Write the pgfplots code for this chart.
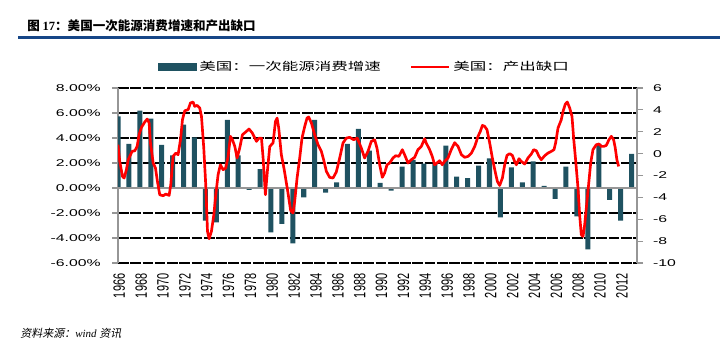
\documentclass[border=0pt]{standalone}
\usepackage{fontspec}
\setmainfont{Liberation Sans}
\newfontfamily\cjk{Noto Sans CJK SC}
\newfontfamily\cjkit[FakeSlant=0.2]{Noto Sans CJK SC}
\newfontfamily\tnr{Liberation Serif}
\usepackage{graphicx}
\usepackage{pgfplots}
\pgfplotsset{compat=1.18}
\definecolor{barcol}{RGB}{31,82,97}
\definecolor{rulecol}{RGB}{22,70,135}
\definecolor{axgray}{RGB}{150,150,150}
\pgfplotsset{
  common/.style={
    at={(88.5pt,67.5pt)}, anchor=south west, scale only axis,
    width=389.25pt, height=131.25pt,
    xmin=1966, xmax=2013.5,
    tick align=outside, major tick length=4.5pt,
    y axis line style={axgray, line width=1.1pt},
    ytick style={axgray, line width=0.9pt},
  }
}
\begin{document}
\begin{tikzpicture}
\path[use as bounding box] (0,0) rectangle (540pt,264.75pt);
\node[anchor=base west, inner sep=0pt, font=\fontsize{9.4pt}{11pt}\selectfont] at (20.25pt,241.5pt)
  {\cjk\bfseries 图 {\tnr\bfseries 17}：美国一次能源消费增速和产出缺口};
\draw[rulecol, line width=1.7pt] (13.5pt,236.6pt) -- (540pt,236.6pt);
\node[anchor=base west, inner sep=0pt, font=\fontsize{8.25pt}{10pt}\selectfont] at (15pt,12pt)
  {\cjkit 资料来源：{\tnr\itshape wind }资讯};

\begin{axis}[common,
  ymin=-6, ymax=8,
  axis y line*=left, axis x line*=bottom,
  x axis line style={draw=none},
  xtick style={draw=none},
  ytick={-6,-4,...,8},
  yticklabel={\scalebox{1.6}[1]{\pgfmathprintnumber[fixed,fixed zerofill,precision=2,assume math mode=true]{\tick}\%}},
  yticklabel style={font=\fontsize{7.4pt}{9pt}\selectfont, xshift=-5pt},
  xtick={1966,1968,...,2012},
  xticklabel={\scalebox{1}[1.5]{\pgfmathprintnumber[int detect,1000 sep={},assume math mode=true]{\tick}}},
  xticklabel style={rotate=90, anchor=east, font=\fontsize{8.2pt}{9pt}\selectfont, yshift=-1pt},
  ymajorgrids,
  grid style={black, line width=1.4pt, dash pattern=on 8pt off 1.2pt},
]
\addplot[ybar, bar width=0.46, fill=barcol, draw=none] coordinates {
(1966,5.73) (1967,3.52) (1968,6.19) (1969,5.55) (1970,3.44) (1971,2.6)
(1972,5.07) (1973,4.05) (1974,-2.61) (1975,-2.75) (1976,5.44) (1977,2.6)
(1978,-0.15) (1979,1.5) (1980,-3.55) (1981,-2.88) (1982,-4.43) (1983,-0.75)
(1984,5.44) (1985,-0.37) (1986,0.45) (1987,3.52) (1988,4.72) (1989,2.99)
(1990,0.4) (1991,-0.21) (1992,1.71) (1993,2.24) (1994,1.95) (1995,1.95)
(1996,3.39) (1997,0.9) (1998,0.78) (1999,1.79) (2000,2.37) (2001,-2.35)
(2002,1.65) (2003,0.45) (2004,2.13) (2005,0.16) (2006,-0.88) (2007,1.71)
(2008,-2.27) (2009,-4.91) (2010,3.52) (2011,-0.96) (2012,-2.61) (2013,2.72)
};
\draw[axgray, line width=1.4pt] (1966,0) -- (2013.5,0);
\end{axis}

\begin{axis}[common,
  ymin=-10, ymax=6,
  axis y line*=right, axis x line=none,
  ytick={-10,-8,...,6},
  yticklabel={\scalebox{1.6}[1]{\pgfmathprintnumber[int detect,assume math mode=true]{\tick}}},
  yticklabel style={font=\fontsize{7.4pt}{9pt}\selectfont, xshift=4pt},
  legend style={at={(0.077,1.12)}, anchor=west, draw=none, fill=none, inner sep=0pt,
    legend columns=2, font=\fontsize{8.25pt}{10pt}\selectfont,
    /tikz/every even column/.append style={column sep=20pt}},
  legend cell align=left,
]
\addlegendimage{legend image code/.code={\fill[barcol] (0pt,-2.6pt) rectangle (28.5pt,2.6pt);}}
\addlegendentry{\scalebox{1.5}[1]{\cjk 美国：一次能源消费增速}}
\addplot[red, line width=2pt, line join=round,
  legend image code/.code={\draw[red, line width=1.8pt] (0pt,0pt) -- (28.5pt,0pt);}] coordinates {
(1966.00,0.81) (1966.16,-0.71) (1966.41,-2.08) (1966.56,-2.23) (1966.77,-1.47) (1966.93,-0.56)
(1967.08,-0.25) (1967.29,0.21) (1967.54,0.26) (1967.75,0.66) (1967.93,1.73) (1968.15,2.40)
(1968.45,2.89) (1968.67,3.16) (1968.85,2.80) (1968.97,0.97) (1969.22,-0.86) (1969.43,-1.32)
(1969.61,-2.54) (1969.82,-3.76) (1970.13,-3.85) (1970.37,-3.70) (1970.68,-3.82) (1970.83,-2.84)
(1971.04,-0.25) (1971.29,0.05) (1971.50,-0.10) (1971.72,1.27) (1971.90,3.10) (1972.11,3.92)
(1972.42,4.02) (1972.63,4.63) (1972.87,4.72) (1973.02,4.32) (1973.24,4.41) (1973.48,4.17)
(1973.64,3.41) (1973.85,0.51) (1974.03,-2.84) (1974.19,-7.11) (1974.34,-7.78) (1974.55,-7.11)
(1974.77,-5.59) (1974.95,-3.76) (1975.16,-1.93) (1975.37,-1.02) (1975.62,-1.47) (1975.86,-1.32)
(1976.08,-0.25) (1976.29,1.58) (1976.47,1.27) (1976.69,0.66) (1976.90,-0.40) (1977.14,0.51)
(1977.39,1.73) (1977.75,2.03) (1977.99,2.25) (1978.30,1.88) (1978.67,1.12) (1978.91,1.42)
(1979.13,1.42) (1979.28,-0.40) (1979.49,-3.76) (1979.67,-1.62) (1979.89,0.66) (1980.19,0.97)
(1980.41,2.95) (1980.56,3.25) (1980.71,2.34) (1980.95,-0.10) (1981.20,-1.40) (1981.56,-3.60)
(1981.80,-5.20) (1982.02,-5.43) (1982.17,-4.37) (1982.39,-2.23) (1982.63,-0.40) (1982.84,1.42)
(1983.09,2.49) (1983.30,3.25) (1983.45,3.35) (1983.70,2.80) (1984.00,1.73) (1984.31,0.81)
(1984.61,0.21) (1984.82,-0.56) (1985.07,-1.62) (1985.37,-2.17) (1985.68,-2.23) (1985.98,-1.68)
(1986.29,-0.40) (1986.59,0.97) (1986.90,1.42) (1987.20,1.49) (1987.57,1.27) (1987.90,1.42)
(1988.27,0.51) (1988.57,-0.40) (1988.88,0.21) (1989.18,1.12) (1989.49,1.27) (1989.70,0.51)
(1989.95,-1.02) (1990.19,-2.17) (1990.40,-1.78) (1990.62,-1.02) (1990.86,-0.86) (1991.17,-0.40)
(1991.41,-0.19) (1991.71,-0.25) (1992.02,0.36) (1992.23,-0.10) (1992.54,-0.86) (1992.84,-0.56)
(1993.15,-0.34) (1993.45,0.36) (1993.76,0.66) (1994.06,1.36) (1994.21,0.97) (1994.52,0.36)
(1994.76,-0.25) (1994.98,-1.02) (1995.19,-0.86) (1995.43,-0.65) (1995.68,-1.02) (1995.89,-0.71)
(1996.20,-0.40) (1996.50,0.36) (1996.81,1.00) (1997.12,0.66) (1997.43,-0.10) (1997.73,-0.34)
(1998.04,-0.25) (1998.34,0.05) (1998.65,0.66) (1998.95,1.58) (1999.16,2.03) (1999.35,2.58)
(1999.56,2.49) (1999.77,2.19) (2000.02,0.97) (2000.26,-0.40) (2000.48,-1.47) (2000.72,-2.54)
(2000.93,-2.91) (2001.18,-2.23) (2001.39,-1.02) (2001.60,-0.16) (2001.85,0.00) (2002.09,-0.16)
(2002.30,-0.71) (2002.46,-1.02) (2002.70,-0.46) (2002.91,-0.71) (2003.22,-0.95) (2003.52,-0.40)
(2003.83,-0.03) (2004.04,0.36) (2004.29,0.26) (2004.53,-0.25) (2004.74,-0.56) (2005.05,-0.19)
(2005.35,0.05) (2005.66,0.21) (2005.90,0.36) (2006.05,0.97) (2006.27,2.34) (2006.57,3.10)
(2006.73,3.86) (2006.94,4.53) (2007.12,4.72) (2007.34,4.17) (2007.55,3.41) (2007.70,1.42)
(2007.88,-0.56) (2008.10,-3.15) (2008.25,-5.59) (2008.40,-7.42) (2008.56,-7.57) (2008.71,-6.50)
(2008.86,-4.98) (2009.07,-2.84) (2009.26,-0.86) (2009.47,0.36) (2009.77,0.81) (2010.02,0.88)
(2010.23,0.66) (2010.45,0.66) (2010.69,0.75) (2010.93,1.27) (2011.15,1.58) (2011.36,1.27)
(2011.51,0.51) (2011.66,-0.56) (2011.82,-1.17)
};
\addlegendentry{\scalebox{1.5}[1]{\cjk 美国：产出缺口}}
\end{axis}
\end{tikzpicture}
\end{document}
